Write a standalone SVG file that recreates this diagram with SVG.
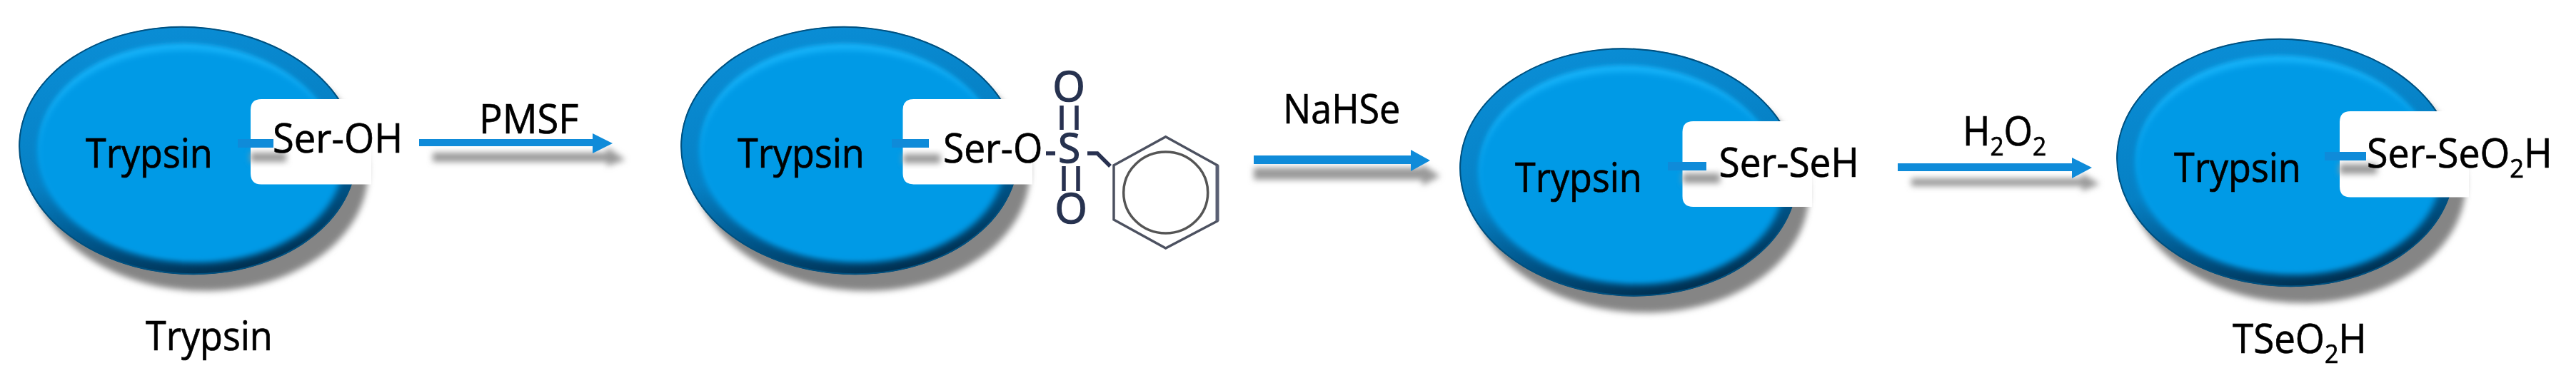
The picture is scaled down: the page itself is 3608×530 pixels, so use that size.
<svg xmlns="http://www.w3.org/2000/svg" width="3608" height="530" viewBox="0 0 3608 530">
<style>
text{font-family:"Open Sans","Liberation Sans",sans-serif;font-size:56px;fill:#000;stroke:#000;stroke-width:.7px;filter:url(#tb)}
.chem{fill:#283150;stroke:#283150;stroke-width:1.6px;text-anchor:middle}
.bond{fill:none;stroke:#283150;stroke-width:5.500}
.ring{fill:none;stroke:#4c5160;stroke-width:3.500}
.notch{fill:#fff}
.bar{fill:#0f8bd9}
.arrow{fill:#0f8bd9}
.sh{fill:#9a9a9a;filter:url(#blur)}
</style>
<defs>
<filter id="tb" x="-5%" y="-10%" width="110%" height="120%"><feGaussianBlur stdDeviation=".6"/></filter>
<filter id="blur" x="-20%" y="-60%" width="140%" height="220%"><feGaussianBlur stdDeviation="4"/></filter>
<filter id="soft" x="-10%" y="-10%" width="120%" height="120%"><feGaussianBlur stdDeviation="4"/></filter>
<filter id="soft2" x="-10%" y="-10%" width="120%" height="120%"><feGaussianBlur stdDeviation="3"/></filter>
<linearGradient id="edge" x1="0.3" y1="0" x2="0.7" y2="1">
<stop offset="0" stop-color="#0a8ed6"/><stop offset="0.5" stop-color="#0680c4"/><stop offset="0.75" stop-color="#005488"/><stop offset="1" stop-color="#002a48"/>
</linearGradient>
<clipPath id="cl"><ellipse rx="237" ry="174"/></clipPath>
<g id="body">
<ellipse cx="17" cy="22" rx="237" ry="174" fill="#858585" filter="url(#blur)"/>
<g clip-path="url(#cl)">
<ellipse rx="237" ry="174" fill="url(#edge)" stroke="#00507f" stroke-width="4"/>
<ellipse cx="0" cy="0" rx="208" ry="150" fill="#17b4fa" filter="url(#soft2)"/>
<ellipse cx="4" cy="8" rx="214" ry="149" fill="#009ae6" filter="url(#soft)"/>
</g>
</g>
</defs>

<g id="connectors">
<path class="sh" d="M606 214H850V206L876 224L850 233V227H606Z"/>
<path class="arrow" d="M587 195H830V187L858 201L830 215V205H587Z"/>
<path class="sh" d="M1756 235H1992V230L2017 247L1992 260V252H1756Z"/>
<path class="arrow" d="M1756 218H1976V210L2003 225L1976 240V230H1756Z"/>
<path class="sh" d="M2677 250H2916V243L2941 258L2916 268V261H2677Z"/>
<path class="arrow" d="M2658 229H2902V221L2930 235L2902 250V240H2658Z"/>
</g>

<g id="node1">
<use href="#body" transform="translate(263 211) rotate(3)"/>
<path class="notch" d="M520 139H366Q351 139 351 154V243Q351 258.500 366 258.500H520Z"/>
<rect x="351" y="214" width="50" height="13" class="sh"/>
<rect x="333" y="195" width="50" height="12" class="bar"/>
<text transform="translate(120 234.500) scale(.93 1)">Trypsin</text>
<text transform="translate(382 213.500) scale(.97 1)">Ser-OH</text>
</g>
<text id="label-pmsf" transform="translate(671 187) scale(.97 1)">PMSF</text>
<text id="label-trypsin" transform="translate(204 490.500) scale(.93 1)">Trypsin</text>

<g id="node2">
<use href="#body" transform="translate(1190 211) rotate(3)"/>
<path class="notch" d="M1446 139H1279.500Q1264.500 139 1264.500 154V243Q1264.500 258.500 1279.500 258.500H1446Z"/>
<rect x="1265" y="216" width="52" height="13" class="sh"/>
<rect x="1249" y="195" width="52" height="12" class="bar"/>
<text transform="translate(1033 234.500) scale(.93 1)">Trypsin</text>
<text transform="translate(1321 228) scale(.95 1)">Ser-O</text>
</g>
<g id="sulfonyl-phenyl">
<text class="chem" x="1497.500" y="228">S</text>
<text class="chem" x="1497" y="142" style="font-size:58px">O</text>
<text class="chem" x="1500" y="313" style="font-size:58px">O</text>
<path class="bond" d="M1465 215H1478M1487 148V182M1508 148V182M1490 233V268M1510 233V268M1523 215H1537L1555 233"/>
<path class="ring" d="M1632.700 191.700L1705 231.700V310L1632.700 348L1560 308V231.700Z"/>
<path d="M1705 231.700V310" fill="none" stroke="#5a6074" stroke-width="5"/>
<ellipse class="ring" cx="1632.700" cy="270" rx="59" ry="57" style="stroke:#555"/>
</g>

<text id="label-nahse" transform="translate(1797 173) scale(.93 1)">NaHSe</text>

<g id="node3">
<use href="#body" transform="translate(2281 241.500) rotate(3)"/>
<path class="notch" d="M2538 170H2371.500Q2356.500 170 2356.500 185V275Q2356.500 290 2371.500 290H2538Z"/>
<rect x="2357" y="243" width="52" height="14" class="sh"/>
<rect x="2336" y="227" width="54" height="12" class="bar"/>
<text transform="translate(2122 268.500) scale(.93 1)">Trypsin</text>
<text transform="translate(2407.500 248) scale(.95 1)">Ser-SeH</text>
</g>

<text id="label-h2o2" transform="translate(2749 204) scale(.93 1)">H<tspan style="font-size:36px" dy="14">2</tspan><tspan dy="-14">O</tspan><tspan style="font-size:36px" dy="14">2</tspan></text>

<g id="node4">
<use href="#body" transform="translate(3201 228) rotate(3)"/>
<path class="notch" d="M3458 156H3292Q3277 156 3277 171V261.500Q3277 276.500 3292 276.500H3458Z"/>
<rect x="3277" y="230" width="52" height="14" class="sh"/>
<rect x="3256" y="213" width="58" height="12" class="bar"/>
<text transform="translate(3045 255) scale(.93 1)">Trypsin</text>
<text transform="translate(3315 235) scale(.96 1)">Ser-SeO<tspan style="font-size:36px" dy="14">2</tspan><tspan dy="-14">H</tspan></text>
</g>
<text id="label-tseo2h" transform="translate(3127 495) scale(.945 1)">TSeO<tspan style="font-size:36px" dy="14">2</tspan><tspan dy="-14">H</tspan></text>
</svg>
